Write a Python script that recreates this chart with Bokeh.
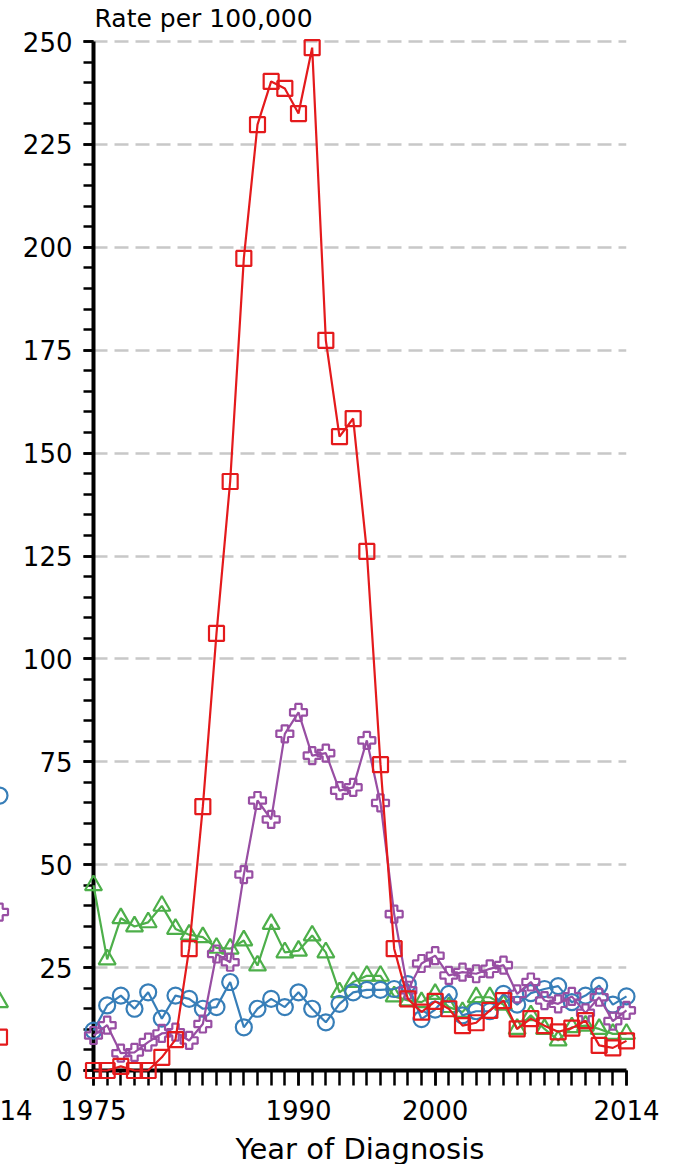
from bokeh.plotting import figure
from bokeh.layouts import row
from bokeh.models import FixedTicker, Range1d, Label
from bokeh.embed import file_html
from bokeh.resources import INLINE

# ---------------- data ----------------
years = list(range(1975, 2015))

blue_circles = [9.7, 15.8, 18.2, 15.0, 19.0, 12.6, 18.2, 17.4, 15.0, 15.4,
                21.5, 10.5, 15.0, 17.4, 15.4, 19.0, 15.0, 11.7, 16.2, 19.0,
                19.6, 19.6, 19.8, 21.0, 12.5, 14.8, 18.6, 13.4, 14.4, 14.4,
                18.6, 16.0, 18.8, 19.8, 20.5, 16.6, 18.2, 20.6, 16.0, 18.0]

green_triangles = [45.0, 27.0, 37.0, 35.0, 36.0, 40.0, 34.4, 33.0, 32.4, 29.8,
                   29.6, 31.6, 25.5, 35.6, 28.7, 29.1, 32.8, 28.7, 19.0, 21.5,
                   23.0, 23.0, 18.0, 17.0, 16.6, 18.6, 15.4, 14.2, 17.8, 17.8,
                   16.0, 10.1, 13.4, 10.1, 7.3, 10.5, 10.9, 10.1, 8.9, 8.9]

purple_crosses = [8.5, 11.0, 4.2, 4.4, 6.9, 9.0, 9.3, 7.3, 11.3, 28.3,
                  26.3, 47.6, 65.6, 61.0, 81.8, 87.0, 76.5, 77.1, 68.0, 68.8,
                  80.2, 65.0, 38.0, 19.5, 26.0, 27.9, 23.1, 23.9, 23.5, 24.7,
                  25.6, 18.6, 21.5, 17.0, 16.2, 18.0, 14.0, 17.8, 12.0, 14.6]

red_squares = [0.0, 0.0, 1.0, 0.0, 0.0, 3.2, 7.5, 29.6, 64.1, 106.2,
               143.1, 197.3, 229.8, 240.3, 238.6, 232.5, 248.5, 177.4, 154.0, 158.4,
               126.1, 74.3, 29.6, 17.4, 14.2, 16.8, 15.0, 10.9, 11.6, 14.6,
               17.0, 10.1, 12.6, 10.9, 9.4, 10.3, 12.1, 6.1, 5.5, 7.2]

# last points of the neighbouring (cut-off) panel on the left
prev_panel_year = [2014]
prev_blue = [66.8]
prev_purple = [38.5]
prev_green = [16.6]
prev_red = [8.1]

x_tick_labels = [1975, 1990, 2000, 2014]
y_tick_labels = list(range(0, 251, 25))
y_minor = list(range(0, 251, 5))

title_text = "Rate per 100,000"
x_title = "Year of Diagnosis"

# ---------------- styling / geometry ----------------
BLUE, GREEN, PURPLE, RED = "#377eb8", "#4daf4a", "#984ea3", "#e41a1c"
FONT = "DejaVu Sans"
W, H = 675, 1164
AX_L, AX_R, AX_T, AX_B = 93, 626, 41, 1070      # where 1975/2014 and 250/0 sit, page px
PX_YEAR = (AX_R - AX_L) / (2014 - 1975)
PX_UNIT = (AX_B - AX_T) / 250.0
Y_TOP = AX_B / PX_UNIT                          # value at the top edge of the canvas
STUB_HIDDEN = 40                                # part of the stub panel left of the page
STUB_W = 88
LW = 2.2
MARKERS = {"triangle": 17, "circle": 16, "plus": 17, "square": 15}

common = dict(output_backend="svg", toolbar_location=None, title=None)

# ---- layer 1: stub of the neighbouring panel (partly off-page on the left) ----
sx0 = 2014 - (STUB_HIDDEN - 1) / PX_YEAR
s = figure(frame_width=STUB_W, frame_height=AX_B,
           x_range=Range1d(sx0, sx0 + STUB_W / PX_YEAR),
           y_range=Range1d(0, Y_TOP), y_axis_location=None,
           min_border_left=0, min_border_right=0, min_border_top=0, min_border_bottom=H - AX_B,
           **common)
s.margin = (0, 0, 0, -STUB_HIDDEN)
s.outline_line_color = None
s.background_fill_color = None
s.border_fill_color = "white"
s.xgrid.visible = False
s.ygrid.visible = False
sa = s.xaxis[0]
sa.ticker = FixedTicker(ticks=prev_panel_year, minor_ticks=[])
sa.axis_line_color = None
sa.major_tick_line_color = None
sa.minor_tick_line_color = None
sa.major_tick_in = 0
sa.major_tick_out = 15
sa.major_label_text_font = FONT
sa.major_label_text_font_size = "26px"
sa.major_label_text_color = "black"
sa.major_label_standoff = 14
for vals, col, mk in [(prev_green, GREEN, "triangle"), (prev_blue, BLUE, "circle"),
                      (prev_purple, PURPLE, "plus"), (prev_red, RED, "square")]:
    s.scatter(prev_panel_year, vals, marker=mk, size=MARKERS[mk], line_color=col,
              fill_color=None, line_width=LW)

# ---- layer 2: axes, ticks and grid ----
ax = figure(frame_width=AX_R - AX_L, frame_height=AX_B,
            x_range=Range1d(1975, 2014), y_range=Range1d(0, Y_TOP),
            min_border_left=AX_L, min_border_right=W - AX_R, min_border_top=0, min_border_bottom=H - AX_B,
            **common)
ax.margin = (0, 0, 0, -(STUB_W - STUB_HIDDEN))
ax.border_fill_color = None
ax.background_fill_color = None
ax.outline_line_color = None
ax.xgrid.visible = False
yt = FixedTicker(ticks=y_tick_labels, minor_ticks=y_minor)
ax.ygrid.ticker = yt
ax.ygrid.grid_line_color = "#c8c8c8"
ax.ygrid.grid_line_width = 2.5
ax.ygrid.grid_line_dash = "14 7"

ya = ax.yaxis[0]
ya.ticker = yt
ya.bounds = (0, 250)
ya.axis_line_width = 4
ya.major_tick_in = 0
ya.major_tick_out = 10
ya.minor_tick_in = 0
ya.minor_tick_out = 10
ya.major_tick_line_width = 2.5
ya.minor_tick_line_width = 2.5
ya.major_label_text_font = FONT
ya.major_label_text_font_size = "26px"
ya.major_label_text_color = "black"
ya.major_label_standoff = 11

xa = ax.xaxis[0]
xa.ticker = FixedTicker(ticks=x_tick_labels, minor_ticks=years)
xa.axis_line_width = 4
xa.major_tick_in = 0
xa.major_tick_out = 15
xa.minor_tick_in = 0
xa.minor_tick_out = 15
xa.major_tick_line_width = 2.5
xa.minor_tick_line_width = 2.5
xa.major_label_text_font = FONT
xa.major_label_text_font_size = "26px"
xa.major_label_text_color = "black"
xa.major_label_standoff = 14

# ---- layer 3: data (full-canvas frame, same scales, nothing clipped) ----
dx0 = 1975 - AX_L / PX_YEAR
dy0 = -(H - AX_B) / PX_UNIT
p = figure(frame_width=W, frame_height=H,
           x_range=Range1d(dx0, dx0 + W / PX_YEAR), y_range=Range1d(dy0, dy0 + H / PX_UNIT),
           x_axis_location=None, y_axis_location=None,
           min_border_left=0, min_border_right=0, min_border_top=0, min_border_bottom=0,
           **common)
p.margin = (0, 0, 0, -W)
p.border_fill_color = None
p.background_fill_color = None
p.outline_line_color = None
p.xgrid.visible = False
p.ygrid.visible = False

series = [
    (green_triangles, GREEN, "triangle"),
    (blue_circles, BLUE, "circle"),
    (purple_crosses, PURPLE, "plus"),
    (red_squares, RED, "square"),
]
for vals, col, mk in series:
    p.line(years, vals, line_color=col, line_width=LW)
    p.scatter(years, vals, marker=mk, size=MARKERS[mk], line_color=col, fill_color=None, line_width=LW)

p.add_layout(Label(x=1975, y=250 + (AX_T - 18) / PX_UNIT, x_offset=1, text=title_text,
                   text_font=FONT, text_font_size="25px", text_color="black",
                   text_baseline="alphabetic", text_align="left"))
p.add_layout(Label(x=(1975 + 2014) / 2, y=-(1148 - AX_B) / PX_UNIT, text=x_title,
                   text_font=FONT, text_font_size="29px", text_color="black",
                   text_baseline="alphabetic", text_align="center"))

layout = row(s, ax, p)
open("out.html", "w").write(file_html(layout, INLINE))
